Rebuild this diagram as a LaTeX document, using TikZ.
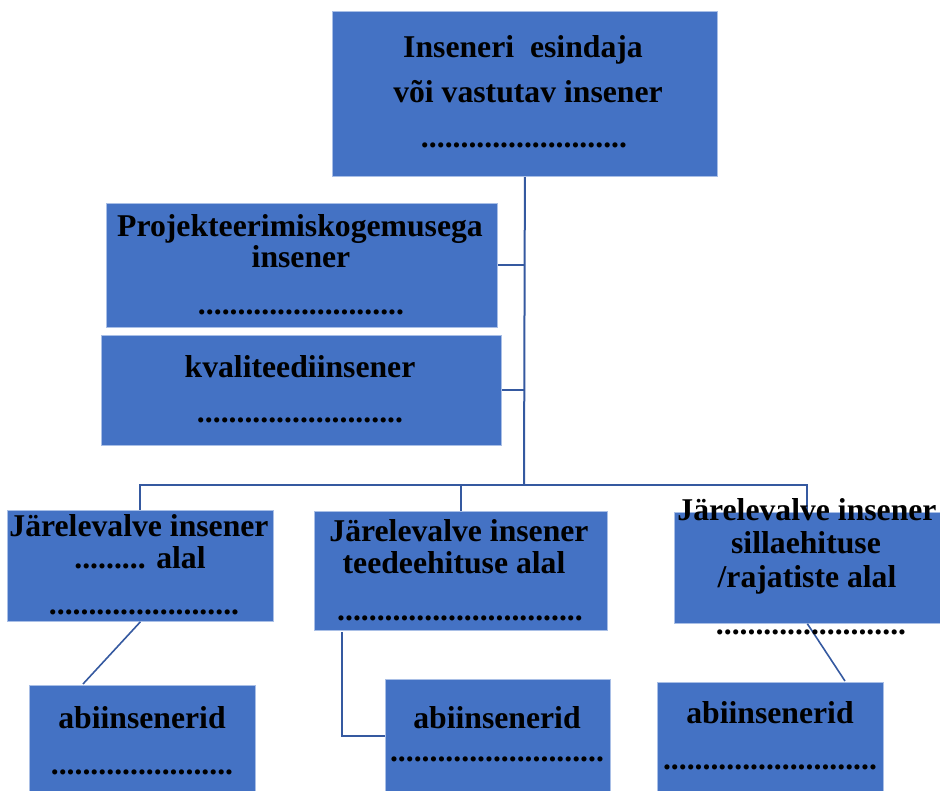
\documentclass[tikz,border=0pt]{standalone}
\usepackage{fontspec}
\setmainfont{Liberation Serif}
\definecolor{boxblue}{HTML}{4472C4}
\definecolor{boxedge}{HTML}{A9BFE6}
\definecolor{linkblue}{HTML}{3559A0}
\pgfdeclarelayer{bg}
\pgfsetlayers{bg,main}
\begin{document}
\begin{tikzpicture}[x=1pt,y=-1pt,
  orgbox/.style={draw=boxedge, line width=0.8pt, fill=boxblue, anchor=north west, inner sep=0pt},
  txt/.style={anchor=base, inner sep=0pt, font=\bfseries\fontsize{31.7}{38}\selectfont},
  link/.style={draw=linkblue, line width=2pt},
  thinlink/.style={draw=linkblue, line width=1.6pt}]
\useasboundingbox (0,0) rectangle (940,791);
% boxes
\node[orgbox, minimum width=385pt, minimum height=165pt] (top) at (332,11) {};
\node[orgbox, minimum width=391pt, minimum height=124pt] (box2) at (106,203) {};
\node[orgbox, minimum width=400pt, minimum height=110pt] (box3) at (101,335) {};
\node[orgbox, minimum width=266pt, minimum height=111pt] (box4) at (7,510) {};
\node[orgbox, minimum width=293pt, minimum height=119pt] (box5) at (314,511) {};
\node[orgbox, minimum width=266pt, minimum height=111pt] (box6) at (674,512) {};
\node[orgbox, minimum width=226pt, minimum height=107pt] (abi1) at (29,685) {};
\node[orgbox, minimum width=225pt, minimum height=113pt] (abi2) at (385,679) {};
\node[orgbox, minimum width=226pt, minimum height=110pt] (abi3) at (657,682) {};
% connector points
\coordinate (j) at (524,485);
\coordinate (a1end) at (83,684);
\coordinate (e2) at (342,632);
\coordinate (a3end) at (845,681);
\begin{pgfonlayer}{bg}
\draw[link] (top.south) -- (j);
\draw[link] (box2.east) -- (box2.east -| j);
\draw[link] (box3.east) -- (box3.east -| j);
\draw[link] (j) -| (box4.north);
\draw[link] (j) -| (box5.north);
\draw[link] (j) -| (box6.north);
\end{pgfonlayer}
\draw[thinlink] (box4.south) -- (a1end);
\draw[thinlink] (e2) |- (abi2.west);
\draw[thinlink] (box6.south) -- (a3end);
% texts
\node[txt] (t1a) at (523,58) {Inseneri\ \ esindaja};
\node[txt] (t1b) at (528,103) {või vastutav insener};
\node[txt] (t1c) at (524,148) {..........................};
\node[txt] (t2a) at (300,237) {Projekteerimiskogemusega};
\node[txt] (t2b) at (301,268) {insener};
\node[txt] (t2c) at (301,315) {..........................};
\node[txt] (t3a) at (300,378) {kvaliteediinsener};
\node[txt] (t3c) at (300,423) {..........................};
\node[txt] (t4a) at (139,536) {Järelevalve insener};
\node[txt] (t4b) at (140,568) {......... alal};
\node[txt] (t4c) at (144,614) {........................};
\node[txt] (t5a) at (459,541) {Järelevalve insener};
\node[txt] (t5b) at (454,573) {teedeehituse alal};
\node[txt] (t5c) at (460,620) {...............................};
\node[txt] (t6a) at (807,520) {Järelevalve insener};
\node[txt] (t6b) at (806,553) {sillaehituse};
\node[txt] (t6c) at (807,587) {/rajatiste alal};
\node[txt] (t6d) at (811,634) {........................};
\node[txt] (a1a) at (142,728) {abiinsenerid};
\node[txt] (a1b) at (142,774) {.......................};
\node[txt] (a2a) at (497,728) {abiinsenerid};
\node[txt] (a2b) at (497,761) {...........................};
\node[txt] (a3a) at (770,723) {abiinsenerid};
\node[txt] (a3b) at (770,769) {...........................};
\end{tikzpicture}
\end{document}
